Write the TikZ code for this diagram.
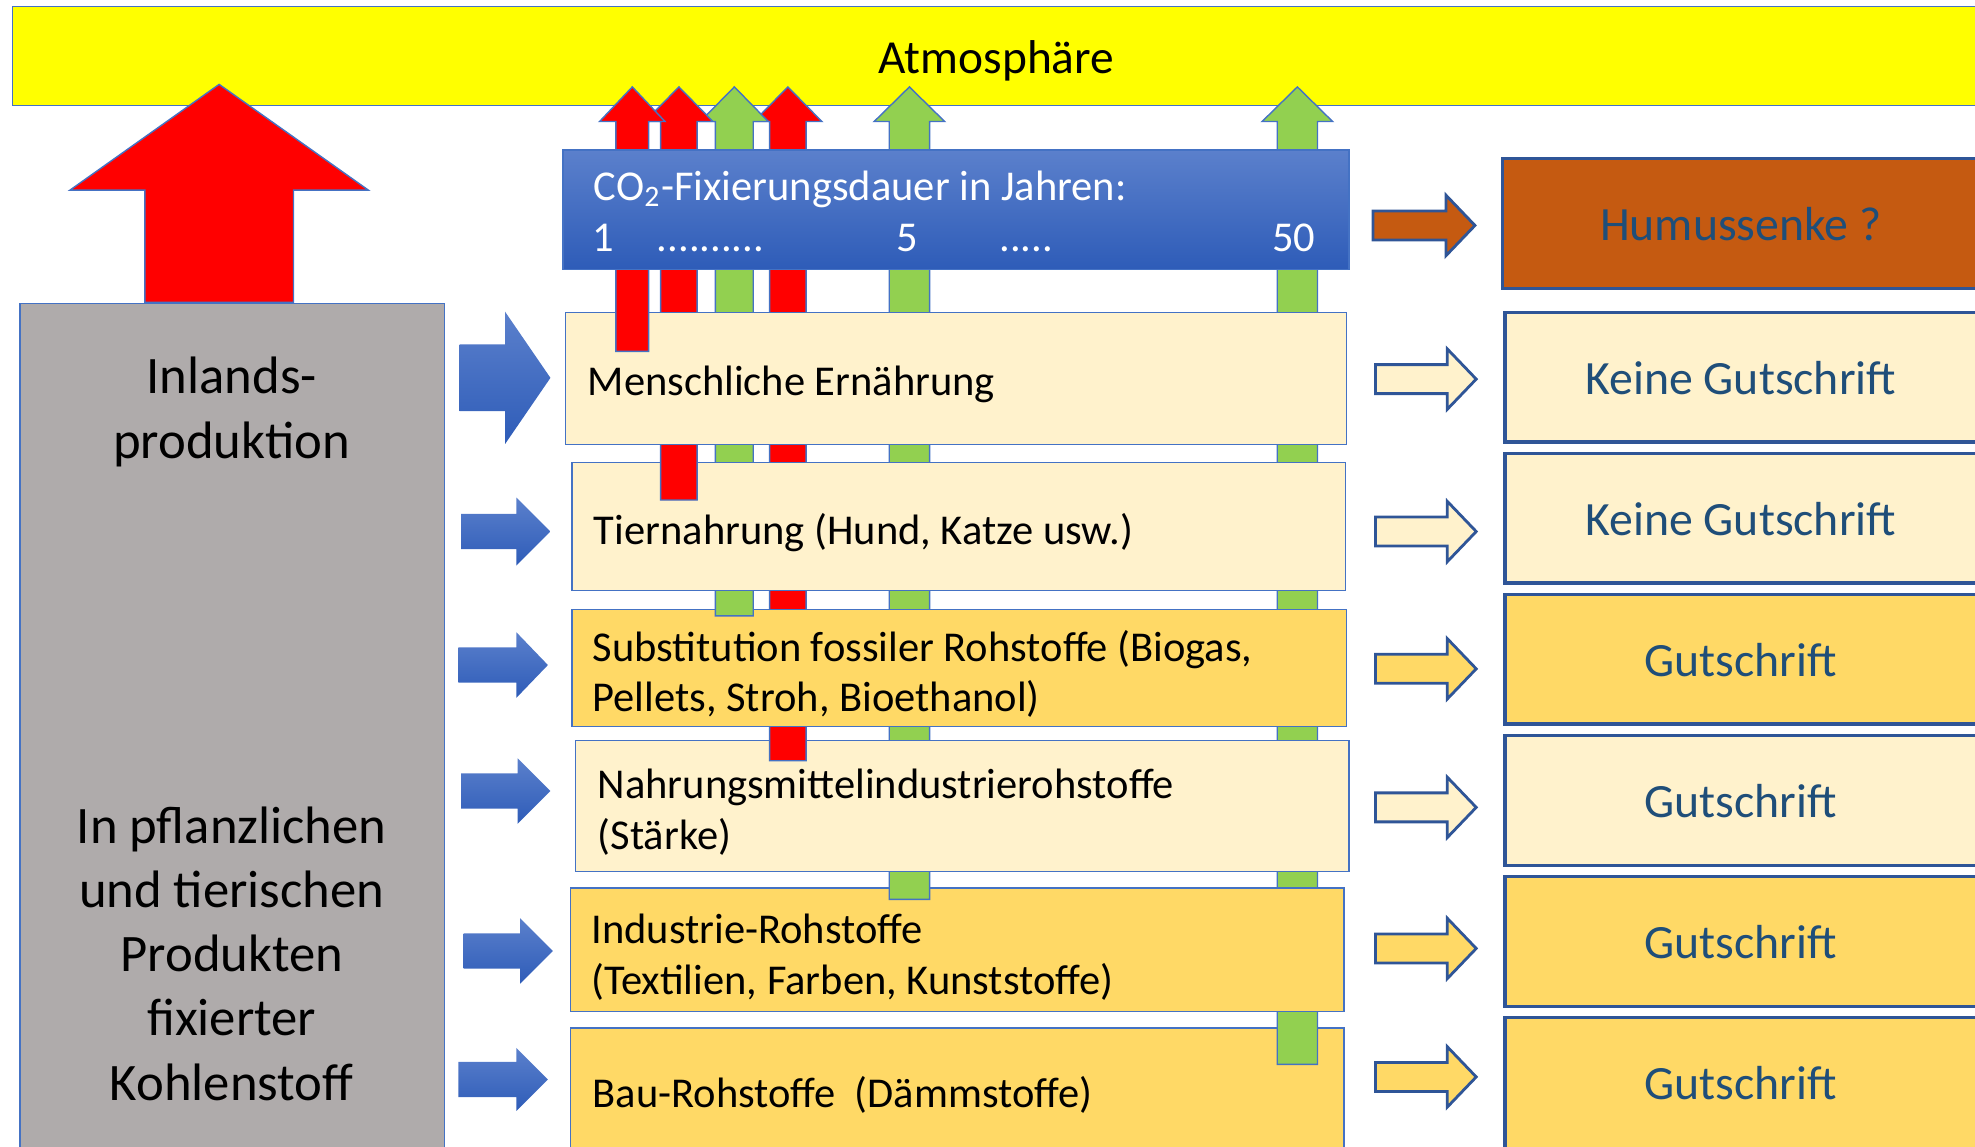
\documentclass[tikz,border=0pt]{standalone}
\usepackage{fontspec}
\setmainfont{Carlito}
\definecolor{atmoyellow}{HTML}{FFFF00}
\definecolor{boxblue}{HTML}{4472C4}
\definecolor{darkblue}{HTML}{2F5597}
\definecolor{textblue}{HTML}{1F4E79}
\definecolor{cream}{HTML}{FFF2CC}
\definecolor{gold}{HTML}{FFD966}
\definecolor{humus}{HTML}{C55A11}
\definecolor{stone}{HTML}{AFABAB}
\definecolor{leaf}{HTML}{92D050}
\definecolor{fire}{HTML}{FF0000}
\definecolor{bluetop}{HTML}{5B80CC}
\definecolor{bluebot}{HTML}{2E5CB8}
\def\uparr[#1](#2:#3:#4:#5:#6:#7){\draw[#1] (#2-#4,#6) -- (#2,#5) -- (#2+#4,#6) -- (#2+#3,#6) -- (#2+#3,#7) -- (#2-#3,#7) -- (#2-#3,#6) -- cycle;}
\def\rarr[#1](#2:#3:#4:#5:#6:#7){\draw[#1] (#2,#5-#6) -- (#3,#5-#6) -- (#3,#5-#7) -- (#4,#5) -- (#3,#5+#7) -- (#3,#5+#6) -- (#2,#5+#6) -- cycle;}

\begin{document}
\begin{tikzpicture}[x=0.0126cm, y=-0.0126cm,
	midbox/.style={draw=boxblue, line width=0.4pt},
	rbox/.style={draw=darkblue, line width=1pt},
	midtext/.style={font=\fontsize{12.1}{14.4}\selectfont, inner sep=0pt, align=left},
	rtext/.style={font=\fontsize{13.6}{16}\selectfont, text=textblue},
	ltext/.style={font=\fontsize{15}{18.3}\selectfont, align=center},
	varrow/.style={draw=boxblue, line width=0.4pt},
	harrow/.style={draw=darkblue, line width=0.8pt},
	barrow/.style={draw=none, top color=bluetop, bottom color=bluebot}]
		%%%%% START %%%%%
		\useasboundingbox (0,0) rectangle (1568,910);
		
		\draw[midbox, fill=atmoyellow] (10,5) rectangle (1590,84);
		\node[font=\fontsize{13.5}{16}\selectfont] (atmo) at (791,48.5) {Atmosphäre};
		
		\draw[midbox, fill=stone] (16,241) rectangle (353,930);
		\node[ltext] (inland) at (184,327) {Inlands-\\produktion};
		\node[ltext] (fixiert) at (184,757) {In pflanzlichen\\und tierischen\\Produkten\\fixierter\\Kohlenstoff};
		\uparr[varrow, fill=fire](174:59:118.5:67:151:240);
		
		% blue arrows into the uses
		\rarr[barrow](365:401:437:300:26.5:52.5);
		\rarr[barrow](366:410:437:422:14:27);
		\rarr[barrow](364:410:435:528:14:26);
		\rarr[barrow](366:411:437:628:14:26);
		\rarr[barrow](368:413:439:755:14:26);
		\rarr[barrow](364:410:435:857:14:25);
		
		% uses with CO2 columns, bottom first
		\draw[midbox, fill=gold] (453,816) rectangle (1067,930);
		\node[midtext, anchor=base west] (bau) at (470,879) {Bau-Rohstoffe\ \ (Dämmstoffe)};
		\uparr[varrow, fill=leaf](1030:16:28:69:96.5:845);
		
		\draw[midbox, fill=gold] (453,705) rectangle (1067,803);
		\node[midtext, anchor=west] (industrie) at (469,760) {Industrie-Rohstoffe\\(Textilien, Farben, Kunststoffe)};
		\uparr[varrow, fill=leaf](722:16:28:69:96.5:714);
		
		\draw[midbox, fill=cream] (457,588) rectangle (1071,692);
		\node[midtext, anchor=west] (nahrung) at (474,645) {Nahrungsmittelindustrierohstoffe\\(Stärke)};
		\uparr[varrow, fill=fire](625.5:14.5:27:69:96.5:604);
		
		\draw[midbox, fill=gold] (454,484) rectangle (1069,577);
		\node[midtext, anchor=west] (subst) at (470,535) {Substitution fossiler Rohstoffe (Biogas,\\Pellets, Stroh, Bioethanol)};
		\uparr[varrow, fill=leaf](583:15:27:69:96.5:489);
		
		\draw[midbox, fill=cream] (454,367) rectangle (1068,469);
		\node[midtext, anchor=base west] (tier) at (471,432) {Tiernahrung (Hund, Katze usw.)};
		\uparr[varrow, fill=fire](539:14.5:27:69:96.5:397);
		
		\draw[midbox, fill=cream] (449,248) rectangle (1069,353);
		\node[midtext, anchor=base west] (mensch) at (466,314) {Menschliche Ernährung};
		\uparr[varrow, fill=fire](502:13:26:69:96.5:279);
		
		\draw[midbox, top color=bluetop, bottom color=bluebot] (447,119) rectangle (1071,214);
		\node[midtext, text=white, anchor=base west] (dauer) at (471,159) {CO\textsubscript{2}-Fixierungsdauer in Jahren:};
		\node[midtext, text=white, anchor=base] (j1) at (479,199.5) {1};
		\node[midtext, text=white, anchor=base west] (dots1) at (521,199.5) {..........};
		\node[midtext, text=white, anchor=base] (j5) at (720.5,199.5) {5};
		\node[midtext, text=white, anchor=base west] (dots2) at (793,199.5) {.....};
		\node[midtext, text=white, anchor=base] (j50) at (1027,199.5) {50};
		
		% credits on the right
		\rarr[harrow, fill=humus](1090:1148:1171:179:11.5:24);
		\draw[rbox, fill=humus] (1193,126) rectangle (1590,229);
		\node[rtext] (humus) at (1382,178) {Humussenke ?};
		
		\rarr[harrow, fill=cream](1092:1149:1172:301:11.5:24);
		\draw[rbox, fill=cream] (1195,248) rectangle (1590,351);
		\node[rtext] (keine1) at (1382,300) {Keine Gutschrift};
		
		\rarr[harrow, fill=cream](1092:1149:1172:422:11.5:24);
		\draw[rbox, fill=cream] (1195,360) rectangle (1590,463);
		\node[rtext] (keine2) at (1382,412) {Keine Gutschrift};
		
		\rarr[harrow, fill=gold](1092:1149:1172:531:11.5:24);
		\draw[rbox, fill=gold] (1195,472) rectangle (1590,575);
		\node[rtext] (gut1) at (1382,524) {Gutschrift};
		
		\rarr[harrow, fill=cream](1092:1149:1172:641:11.5:24);
		\draw[rbox, fill=cream] (1195,584) rectangle (1590,687);
		\node[rtext] (gut2) at (1382,636) {Gutschrift};
		
		\rarr[harrow, fill=gold](1092:1149:1172:753:11.5:24);
		\draw[rbox, fill=gold] (1195,696) rectangle (1590,799);
		\node[rtext] (gut3) at (1382,748) {Gutschrift};
		
		\rarr[harrow, fill=gold](1092:1149:1172:855:11.5:24);
		\draw[rbox, fill=gold] (1195,808) rectangle (1590,930);
		\node[rtext] (gut4) at (1382,860) {Gutschrift};
		%%%%% END %%%%%
\end{tikzpicture}
\end{document}
